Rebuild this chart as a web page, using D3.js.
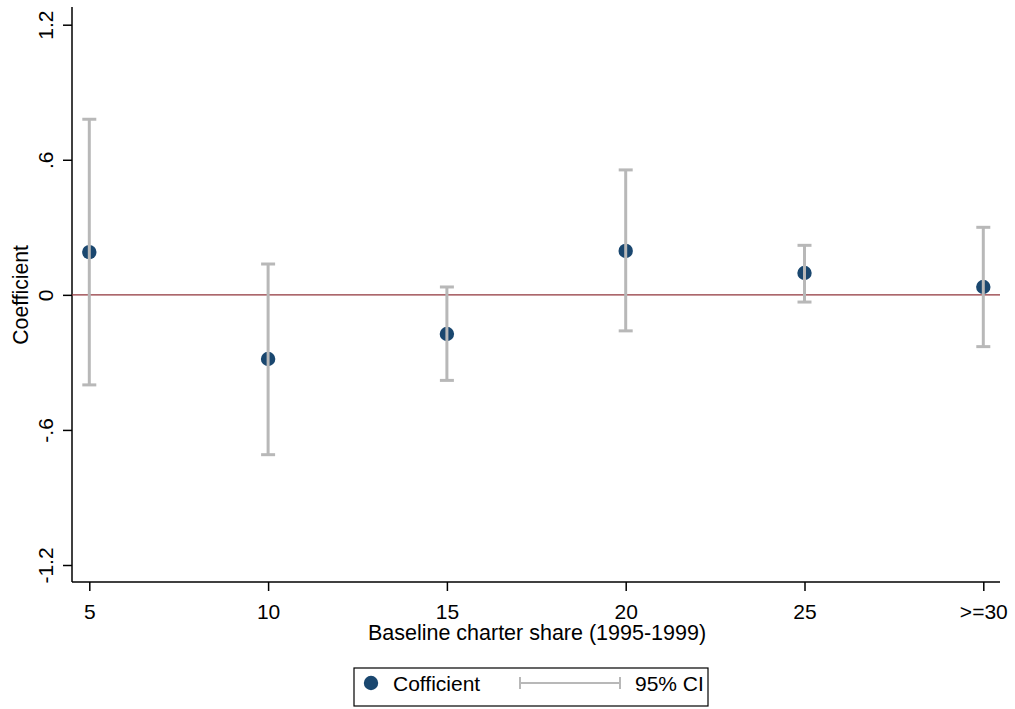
<!DOCTYPE html>
<html><head><meta charset="utf-8">
<script src="https://cdn.jsdelivr.net/npm/d3@7"></script>
<style>body{margin:0;background:#fff;} text{font-family:"Liberation Sans",Arial,sans-serif;fill:#000;}</style>
</head><body>
<svg id="c" width="1015" height="709"></svg>
<script>
const categories = ["5","10","15","20","25",">=30"];
const coef = [0.19, -0.285, -0.174, 0.195, 0.097, 0.035];
const ciLow = [-0.40, -0.71, -0.38, -0.16, -0.032, -0.23];
const ciHigh = [0.78, 0.137, 0.035, 0.555, 0.22, 0.30];
const yTicks = [-1.2, -0.6, 0, 0.6, 1.2];
const yTickLabels = ["-1.2", "-.6", "0", ".6", "1.2"];

const svg = d3.select("#c");
const pLeft = 72, pRight = 1000, pTop = 7, pBottom = 582;
const x = d3.scalePoint().domain(categories).range([89.3, 983.3]);
const y = d3.scaleLinear().domain([-1.2, 1.2]).range([565, 24.7]);

// axes
const yAxis = d3.axisLeft(y).tickValues(yTicks).tickSize(9).tickFormat((d,i)=>yTickLabels[i]);
const gy = svg.append("g").attr("transform",`translate(${pLeft},0)`).call(yAxis);
gy.select(".domain").remove();
gy.selectAll(".tick line").attr("stroke","#000").attr("stroke-width",1.5);
gy.selectAll(".tick text").attr("font-size",21).attr("text-anchor","middle")
  .attr("transform","rotate(-90)").attr("x",0).attr("y",-19).attr("dy",0);
svg.append("line").attr("x1",pLeft).attr("x2",pLeft).attr("y1",pTop).attr("y2",pBottom).attr("stroke","#000").attr("stroke-width",1.5);

const xAxis = d3.axisBottom(x).tickSize(9);
const gx = svg.append("g").attr("transform",`translate(0,${pBottom})`).call(xAxis);
gx.select(".domain").remove();
gx.selectAll(".tick line").attr("stroke","#000").attr("stroke-width",1.5);
gx.selectAll(".tick text").attr("font-size",21).attr("y",36.5).attr("dy",0);
svg.append("line").attr("x1",pLeft).attr("x2",pRight).attr("y1",pBottom).attr("y2",pBottom).attr("stroke","#000").attr("stroke-width",1.5);

// zero line
svg.append("line").attr("x1",pLeft).attr("x2",pRight).attr("y1",y(0)).attr("y2",y(0))
  .attr("stroke","#90353b").attr("stroke-width",1.3);

// points
svg.selectAll("circle.pt").data(categories).enter().append("circle").attr("class","pt")
  .attr("cx",d=>x(d)).attr("cy",(d,i)=>y(coef[i])).attr("r",7.2).attr("fill","#1a476f");

// CI
const ci = svg.append("g").attr("stroke","#b8b8b8").attr("stroke-width",3);
categories.forEach((c,i)=>{
  const cx = x(c);
  ci.append("line").attr("x1",cx).attr("x2",cx).attr("y1",y(ciLow[i])).attr("y2",y(ciHigh[i]));
  ci.append("line").attr("x1",cx-7).attr("x2",cx+7).attr("y1",y(ciLow[i])).attr("y2",y(ciLow[i]));
  ci.append("line").attr("x1",cx-7).attr("x2",cx+7).attr("y1",y(ciHigh[i])).attr("y2",y(ciHigh[i]));
});

// titles
svg.append("text").attr("x",537).attr("y",640).attr("text-anchor","middle").attr("font-size",21.5)
  .text("Baseline charter share (1995-1999)");
svg.append("text").attr("transform",`translate(28,${y(0)}) rotate(-90)`).attr("text-anchor","middle").attr("font-size",21.2)
  .text("Coefficient");

// legend
const lg = svg.append("g");
lg.append("rect").attr("x",354).attr("y",668).attr("width",354).attr("height",38).attr("fill","#fff").attr("stroke","#000").attr("stroke-width",1.2);
lg.append("circle").attr("cx",371).attr("cy",683).attr("r",7.2).attr("fill","#1a476f");
lg.append("text").attr("x",393).attr("y",690.5).attr("font-size",21).text("Cofficient");
lg.append("line").attr("x1",520).attr("x2",620).attr("y1",683).attr("y2",683).attr("stroke","#b8b8b8").attr("stroke-width",2);
lg.append("line").attr("x1",520).attr("x2",520).attr("y1",677).attr("y2",689).attr("stroke","#b8b8b8").attr("stroke-width",2);
lg.append("line").attr("x1",620).attr("x2",620).attr("y1",677).attr("y2",689).attr("stroke","#b8b8b8").attr("stroke-width",2);
lg.append("text").attr("x",635).attr("y",690.5).attr("font-size",21).text("95% CI");
</script>
</body></html>
